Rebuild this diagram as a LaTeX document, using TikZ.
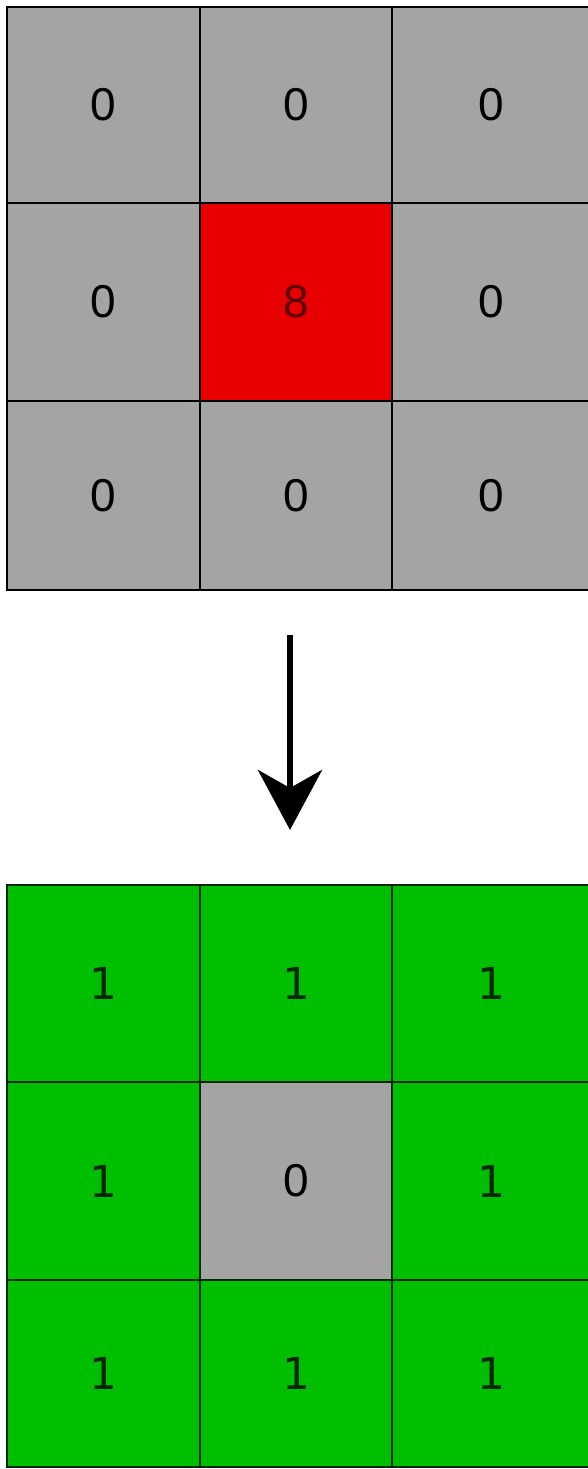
\documentclass[tikz,border=0pt]{standalone}
\usepackage{fontspec}
\setmainfont{Liberation Sans}
\newfontfamily\onefont{DejaVu Sans}
\usetikzlibrary{arrows.meta}
\definecolor{cellgray}{RGB}{164,164,164}
\definecolor{cellred}{RGB}{232,0,0}
\definecolor{cellgreen}{RGB}{0,190,0}
\definecolor{darkred}{RGB}{90,0,10}
\definecolor{darkgreen}{RGB}{0,40,0}
\tikzset{
  cell/.style={draw=black, line width=2.6pt, inner sep=0pt, font=\fontsize{46}{46}\selectfont},
  gcell/.style={cell, fill=cellgray},
  rcell/.style={cell, fill=cellred, text=darkred},
  ncell/.style={cell, fill=cellgreen, draw=darkgreen, line width=1.8pt, text=darkgreen, font=\onefont\fontsize{44}{44}\selectfont},
  hcell/.style={gcell, draw=darkgreen, line width=1.8pt},
  c1/.style={minimum width=193pt},
  c2/.style={minimum width=192pt},
  c3/.style={minimum width=199pt},
  arrowline/.style={line width=6pt, -{Stealth[length=60pt,width=64pt,inset=18pt]}}
}
\begin{document}
\begin{tikzpicture}[x=1pt,y=-1pt]
\useasboundingbox (0,0) rectangle (588,1469);
% top grid
\node[gcell,c1,minimum height=196pt] (t11) at (103.5,105) {0};
\node[gcell,c2,minimum height=196pt] (t12) at (296,105) {0};
\node[gcell,c3,minimum height=196pt] (t13) at (491.5,105) {0};
\node[gcell,c1,minimum height=198pt] (t21) at (103.5,302) {0};
\node[rcell,c2,minimum height=198pt] (t22) at (296,302) {8};
\node[gcell,c3,minimum height=198pt] (t23) at (491.5,302) {0};
\node[gcell,c1,minimum height=189pt] (t31) at (103.5,495.5) {0};
\node[gcell,c2,minimum height=189pt] (t32) at (296,495.5) {0};
\node[gcell,c3,minimum height=189pt] (t33) at (491.5,495.5) {0};
% arrow
\coordinate (a1) at (290,635);
\coordinate (a2) at (290,830);
\draw[arrowline] (a1) -- (a2);
% bottom grid
\node[ncell,c1,minimum height=197pt] (b11) at (103.5,983.5) {1};
\node[ncell,c2,minimum height=197pt] (b12) at (296,983.5) {1};
\node[ncell,c3,minimum height=197pt] (b13) at (491.5,983.5) {1};
\node[ncell,c1,minimum height=198pt] (b21) at (103.5,1181) {1};
\node[hcell,c2,minimum height=198pt,text=black] (b22) at (296,1181) {0};
\node[ncell,c3,minimum height=198pt] (b23) at (491.5,1181) {1};
\node[ncell,c1,minimum height=187pt] (b31) at (103.5,1373.5) {1};
\node[ncell,c2,minimum height=187pt] (b32) at (296,1373.5) {1};
\node[ncell,c3,minimum height=187pt] (b33) at (491.5,1373.5) {1};
\end{tikzpicture}
\end{document}
